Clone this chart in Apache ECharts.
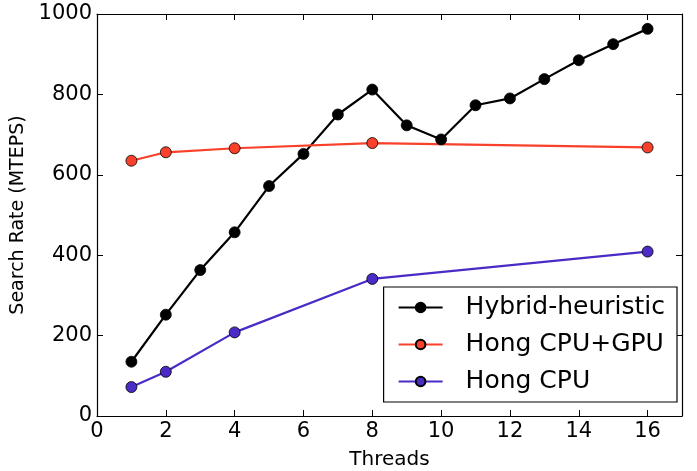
<!DOCTYPE html>
<html>
<head>
<meta charset="utf-8">
<script src="https://cdn.jsdelivr.net/npm/echarts@6/dist/echarts.min.js"></script>
<style>
  html, body { margin: 0; padding: 0; background: #fff; }
  #main { width: 697px; height: 471px; }
</style>
</head>
<body>
<div id="main"></div>
<script>
var hybridThreads = [1, 2, 3, 4, 5, 6, 7, 8, 9, 10, 11, 12, 13, 14, 15, 16];
var hybridRate = [135, 252, 363, 457, 572, 652, 750, 812, 723, 688, 773, 790, 838, 885, 925, 963];
var hongThreads = [1, 2, 4, 8, 16];
var hongGpuRate = [635, 656, 666, 679, 668];
var hongCpuRate = [72, 110, 208, 341, 409];

function pairs(xs, ys) {
  return xs.map(function (x, i) { return [x, ys[i]]; });
}

var font = 'DejaVu Sans';
var chart = echarts.init(document.getElementById('main'));

function lineSeries(name, data, color) {
  return {
    name: name,
    type: 'line',
    data: data,
    symbol: 'circle',
    symbolSize: 11,
    lineStyle: { color: color, width: 2.2 },
    itemStyle: { color: color, borderColor: '#000', borderWidth: 0.8 },
    animation: false
  };
}

function axisBase() {
  return {
    axisLine: { show: true, onZero: false, lineStyle: { color: '#000', width: 1.2 } },
    axisTick: { show: true, inside: true, length: 6, lineStyle: { color: '#000' } },
    splitLine: { show: false }
  };
}

chart.setOption({
  animation: false,
  backgroundColor: '#fff',
  grid: { left: 97, right: 15, top: 14, bottom: 55, containLabel: false, outerBoundsMode: 'none' },
  legend: {
    orient: 'vertical',
    right: 20,
    bottom: 69,
    padding: [8, 12, 8, 14],
    borderColor: '#000',
    borderWidth: 1.2,
    backgroundColor: '#fff',
    itemWidth: 44,
    itemHeight: 12,
    itemGap: 12,
    textStyle: { fontFamily: font, fontSize: 25, color: '#000', padding: [0, 0, 0, 18] },
    data: ['Hybrid-heuristic', 'Hong CPU+GPU', 'Hong CPU']
  },
  xAxis: [
    Object.assign(axisBase(), {
      type: 'value', min: 0, max: 17, interval: 2,
      name: 'Threads', nameLocation: 'middle', nameGap: 34,
      nameTextStyle: { fontFamily: font, fontSize: 20, color: '#000' },
      axisLabel: { fontFamily: font, fontSize: 21, color: '#000', margin: 5, showMaxLabel: false }
    }),
    Object.assign(axisBase(), {
      type: 'value', min: 0, max: 17, interval: 2, position: 'top',
      axisLabel: { show: false }
    })
  ],
  yAxis: [
    Object.assign(axisBase(), {
      type: 'value', min: 0, max: 1000, interval: 200,
      name: 'Search Rate (MTEPS)', nameLocation: 'middle', nameGap: 61,
      nameTextStyle: { fontFamily: font, fontSize: 19, color: '#000' },
      axisLabel: { fontFamily: font, fontSize: 21, color: '#000', margin: 5,
        formatter: function (v) { return String(v); } }
    }),
    Object.assign(axisBase(), {
      type: 'value', min: 0, max: 1000, interval: 200, position: 'right',
      axisLabel: { show: false }
    })
  ],
  series: [
    lineSeries('Hybrid-heuristic', pairs(hybridThreads, hybridRate), '#000000'),
    lineSeries('Hong CPU+GPU', pairs(hongThreads, hongGpuRate), '#f8402a'),
    lineSeries('Hong CPU', pairs(hongThreads, hongCpuRate), '#4b2bc6')
  ]
});
</script>
</body>
</html>
